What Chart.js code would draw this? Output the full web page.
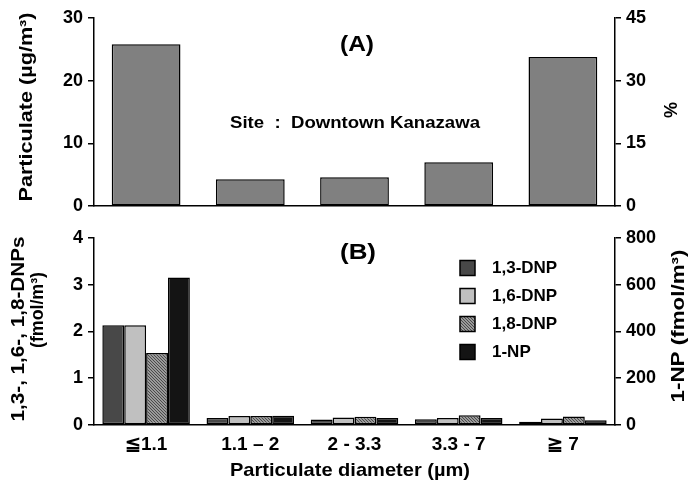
<!DOCTYPE html>
<html>
<head>
<meta charset="utf-8">
<script src="https://cdn.jsdelivr.net/npm/chart.js@4/dist/chart.umd.min.js"></script>
<style>
  body { margin: 0; background: #fff; }
  #wrap { position: relative; width: 690px; height: 484px; }
  canvas { position: absolute; left: 0; }
  #topo { top: 0; }
  #baixo { top: 222px; }
</style>
</head>
<body>
<div id="wrap">
  <canvas id="topo" width="690" height="222"></canvas>
  <canvas id="baixo" width="690" height="262"></canvas>
</div>
<script>
// Dados
const categorias = ["≦1.1", "1.1 – 2", "2 - 3.3", "3.3 - 7", "≧ 7"]
const particulado = [25.8, 4.3, 4.6, 7.0, 23.8]
const dnp13 = [2.13, 0.15, 0.12, 0.125, 0.07]
const dnp16 = [2.13, 0.19, 0.16, 0.15, 0.14]
const dnp18 = [1.54, 0.19, 0.175, 0.21, 0.18]
const np1 = [630, 40, 30, 30, 20]
const rotulos = ["1,3-DNP", "1,6-DNP", "1,8-DNP", "1-NP"]
const ticksEsqA = [0, 30, 10]
const ticksDirA = [0, 45, 15]
const ticksEsqB = [0, 4, 1]
const ticksDirB = [0, 800, 200]

const FONTE = "'Liberation Sans', Arial, sans-serif"
const fonteTick = { family: FONTE, size: 18, weight: "bold" }

// padrão hachurado (1,8-DNP)
function hachura() {
  const c = document.createElement("canvas")
  c.width = 3; c.height = 3
  const x = c.getContext("2d")
  x.fillStyle = "#9a9a9a"
  x.fillRect(0, 0, 3, 3)
  x.strokeStyle = "#4a4a4a"
  x.lineWidth = 1
  x.beginPath()
  x.moveTo(-1, -1); x.lineTo(4, 4)
  x.moveTo(-1, 2); x.lineTo(1, 4)
  x.moveTo(2, -1); x.lineTo(4, 1)
  x.stroke()
  return x.createPattern(c, "repeat")
}

function eixoY(pos, lim, largura) {
  return {
    position: pos,
    min: lim[0], max: lim[1],
    afterFit: s => { s.width = largura },
    ticks: { stepSize: lim[2], color: "#000", font: fonteTick, padding: 5 },
    grid: { display: true, drawOnChartArea: false, drawTicks: true, tickLength: 6, color: "#000", lineWidth: 1.5 },
    border: { display: true, color: "#000", width: 1.5 }
  }
}

// textos soltos (w = comprimento medido na figura)
function textos(lista) {
  return {
    id: "textos",
    afterDraw(chart) {
      const ctx = chart.ctx
      ctx.save()
      ctx.fillStyle = "#000"
      ctx.textAlign = "center"
      ctx.textBaseline = "middle"
      lista.forEach(t => {
        ctx.save()
        ctx.font = `bold ${t.size}px ${FONTE}`
        ctx.translate(t.x, t.y)
        if (t.rot) ctx.rotate(-Math.PI / 2)
        if (t.w) ctx.scale(t.w / ctx.measureText(t.txt).width, 1)
        ctx.fillText(t.txt, 0, 0)
        ctx.restore()
      })
      ctx.restore()
    }
  }
}

// Gráfico A
new Chart(document.getElementById("topo"), {
  type: "bar",
  data: {
    labels: categorias,
    datasets: [{
      data: particulado,
      backgroundColor: "#808080",
      borderColor: "#000",
      borderWidth: 1.5,
      borderSkipped: false,
      categoryPercentage: 0.66,
      barPercentage: 1.0,
      yAxisID: "y"
    }]
  },
  options: {
    responsive: false,
    animation: false,
    layout: { padding: { top: 18 } },
    plugins: { legend: { display: false }, tooltip: { enabled: false } },
    scales: {
      x: {
        afterFit: s => { s.height = 10 },
        ticks: { display: false },
        grid: { display: false },
        border: { display: true, color: "#000", width: 1.5 }
      },
      y: eixoY("left", ticksEsqA, 94),
      y1: eixoY("right", ticksDirA, 75)
    }
  },
  plugins: [textos([
    { txt: "(A)", x: 357, y: 45, size: 22, w: 34 },
    { txt: "Site  :  Downtown Kanazawa", x: 355, y: 123, size: 17, w: 250 },
    { txt: "Particulate (µg/m³)", x: 27, y: 107, size: 18, w: 189, rot: true },
    { txt: "%", x: 672, y: 110, size: 18, rot: true }
  ])]
})

// Gráfico B
const ctxB = document.getElementById("baixo").getContext("2d")
const cores = ["#484848", "#c0c0c0", hachura(), "#141414"]
const series = [dnp13, dnp16, dnp18, np1]

const legendaB = {
  id: "legendaB",
  afterDraw(chart) {
    const ctx = chart.ctx
    ctx.save()
    ctx.font = `bold 17px ${FONTE}`
    ctx.textBaseline = "middle"
    ctx.textAlign = "left"
    chart.data.datasets.forEach((ds, i) => {
      const y = 46 + i * 28
      ctx.fillStyle = ds.backgroundColor
      ctx.fillRect(460, y - 7.5, 15, 15)
      ctx.strokeStyle = "#000"
      ctx.lineWidth = 1.5
      ctx.strokeRect(460, y - 7.5, 15, 15)
      ctx.fillStyle = "#000"
      ctx.fillText(ds.label, 492, y)
    })
    ctx.restore()
  }
}

new Chart(ctxB, {
  type: "bar",
  data: {
    labels: categorias,
    datasets: series.map((s, i) => ({
      label: rotulos[i],
      data: s,
      backgroundColor: cores[i],
      borderColor: "#000",
      borderWidth: 1.5,
      borderSkipped: false,
      categoryPercentage: 0.84,
      barPercentage: 1.0,
      yAxisID: i === 3 ? "y1" : "y"
    }))
  },
  options: {
    responsive: false,
    animation: false,
    layout: { padding: { top: 11 } },
    plugins: { legend: { display: false }, tooltip: { enabled: false } },
    scales: {
      x: {
        afterFit: s => { s.height = 59 },
        ticks: { color: "#000", font: { family: FONTE, size: 19, weight: "bold" }, padding: 0 },
        grid: { display: false },
        border: { display: true, color: "#000", width: 1.5 }
      },
      y: eixoY("left", ticksEsqB, 94),
      y1: eixoY("right", ticksDirB, 75)
    }
  },
  plugins: [legendaB, textos([
    { txt: "(B)", x: 358, y: 31, size: 22, w: 36 },
    { txt: "1,3-, 1,6-, 1,8-DNPs", x: 19, y: 107, size: 18, w: 185, rot: true },
    { txt: "(fmol/m³)", x: 38, y: 88, size: 18, w: 76, rot: true },
    { txt: "1-NP (fmol/m³)", x: 679, y: 104, size: 18, w: 153, rot: true },
    { txt: "Particulate diameter (µm)", x: 350, y: 249, size: 19, w: 240 }
  ])]
})
</script>
</body>
</html>
